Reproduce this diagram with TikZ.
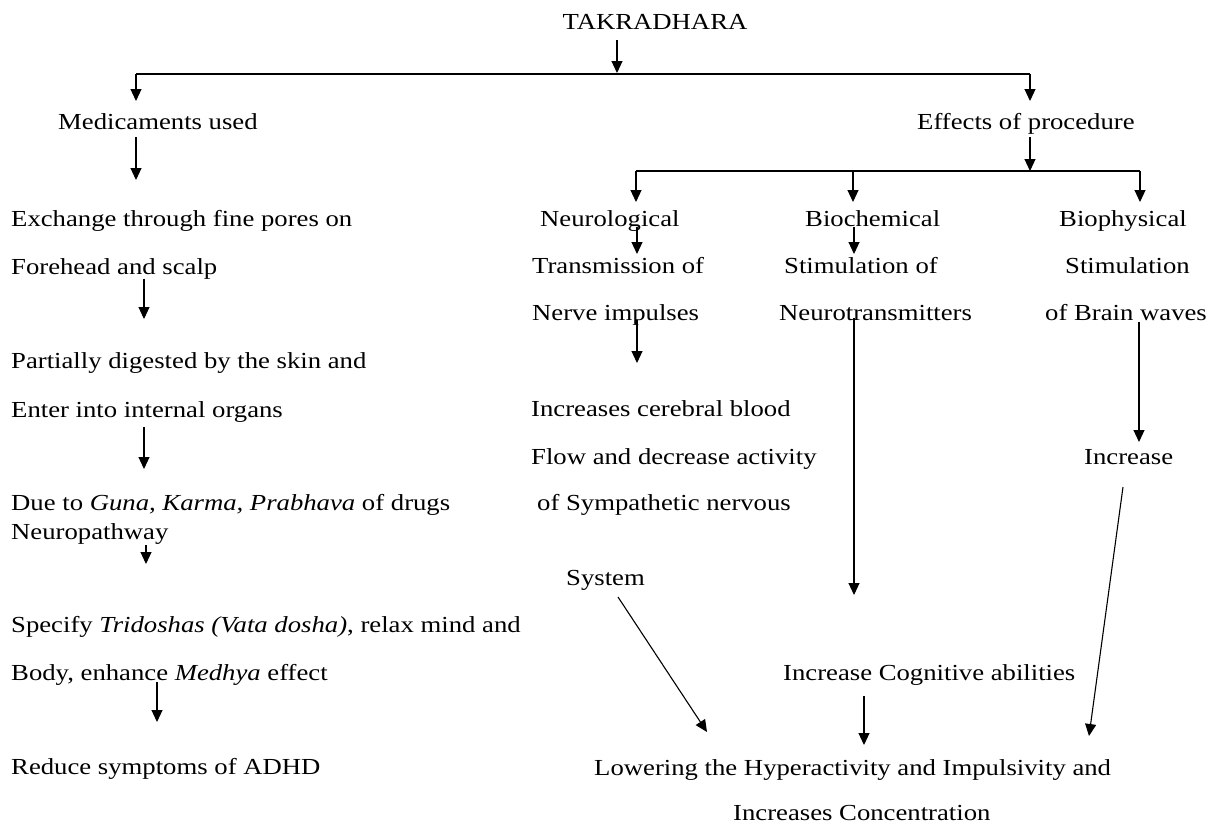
\documentclass[tikz,border=0pt]{standalone}
\usepackage{fontspec}
\setmainfont{Liberation Serif}
\usetikzlibrary{arrows.meta}
\begin{document}
\begin{tikzpicture}[x=1pt,y=-1pt,
  txt/.style={font=\fontsize{26.7}{32}\selectfont, inner sep=0pt, anchor=base west, yscale=0.86},
  ctxt/.style={txt, anchor=base},
  arr/.style={line width=1.1pt, -{Triangle[length=12pt,width=11pt]}},
  bar/.style={line width=1.7pt}]
\fill[white] (0,0) rectangle (1216,825);
\useasboundingbox (0,0) rectangle (1216,825);

% ---- text nodes ----
\node[ctxt] (tak) at (655,29) {TAKRADHARA};
\node[txt] (med) at (58,129) {Medicaments used};
\node[txt] (eff) at (917,129) {Effects of procedure};

\node[txt] (ex1) at (11,226) {Exchange through fine pores on};
\node[txt] (ex2) at (11,274) {Forehead and scalp};
\node[txt] (pd1) at (11,368) {Partially digested by the skin and};
\node[txt] (pd2) at (11,417) {Enter into internal organs};
\node[txt] (du1) at (11,510) {Due to \textit{Guna, Karma, Prabhava} of drugs};
\node[txt] (du2) at (11,539) {Neuropathway};
\node[txt] (sp1) at (11,632) {Specify \textit{Tridoshas (Vata dosha)}, relax mind and};
\node[txt] (sp2) at (11,680) {Body, enhance \textit{Medhya} effect};
\node[txt] (red) at (11,774) {Reduce symptoms of ADHD};

\node[txt] (neu) at (540,226) {Neurological};
\node[txt] (tr1) at (532,273) {Transmission of};
\node[txt] (tr2) at (532,320) {Nerve impulses};
\node[txt] (bio) at (805,226) {Biochemical};
\node[txt] (st1) at (784,273) {Stimulation of};
\node[txt] (st2) at (779,320) {Neurotransmitters};
\node[txt] (bph) at (1059,226) {Biophysical};
\node[txt] (sb1) at (1065,273) {Stimulation};
\node[txt] (sb2) at (1045,320) {of Brain waves};

\node[txt] (ic1) at (531,416) {Increases cerebral blood};
\node[txt] (ic2) at (531,464) {Flow and decrease activity};
\node[txt] (ic3) at (537,510) {of Sympathetic nervous};
\node[txt] (sys) at (566,585) {System};
\node[txt] (inc) at (1084,464) {Increase};
\node[txt] (cog) at (783,680) {Increase Cognitive abilities};
\node[txt] (low) at (594,775) {Lowering the Hyperactivity and Impulsivity and};
\node[txt] (con) at (733,820) {Increases Concentration};

% ---- connector end points ----
\coordinate (takS) at (617,40);
\coordinate (j0) at (617,73);
\coordinate (jL) at (136,74);
\coordinate (jR) at (1030,74);
\coordinate (medN) at (136,101);
\coordinate (effN) at (1030,101);
\coordinate (medS) at (136,137);
\coordinate (medE) at (136,180);
\coordinate (effS) at (1030,137);
\coordinate (j1) at (1030,171);
\coordinate (k1) at (636,171);
\coordinate (k2) at (853,171);
\coordinate (k3) at (1140,171);
\coordinate (neuN) at (636,202);
\coordinate (bioN) at (853,202);
\coordinate (bphN) at (1140,202);
\coordinate (neuS) at (637,227);
\coordinate (tr1N) at (637,254);
\coordinate (bioS) at (854,227);
\coordinate (st1N) at (854,254);
\coordinate (tr2S) at (637,320);
\coordinate (tr2E) at (637,363);
\coordinate (st2S) at (854,318);
\coordinate (st2E) at (854,595);
\coordinate (sb2S) at (1139,322);
\coordinate (incN) at (1139,442);
\coordinate (incS) at (1123,487);
\coordinate (lowR) at (1089,736);
\coordinate (sysS) at (618,597);
\coordinate (lowL) at (707,732);
\coordinate (cogS) at (864,696);
\coordinate (lowM) at (864,745);
\coordinate (ex2S) at (144,279);
\coordinate (pd1N) at (144,319);
\coordinate (pd2S) at (144,427);
\coordinate (du1N) at (144,469);
\coordinate (du2S) at (146,545);
\coordinate (sp1N) at (146,564);
\coordinate (sp2S) at (157,682);
\coordinate (redN) at (157,722);

% ---- connectors ----
\draw[arr] (takS) -- (j0);
\draw[bar] (jL) -- (jR);
\draw[arr] (jL) -- (medN);
\draw[arr] (jR) -- (effN);
\draw[arr] (medS) -- (medE);
\draw[arr] (effS) -- (j1);
\draw[bar] (k1) -- (k3);
\draw[arr] (k1) -- (neuN);
\draw[arr] (k2) -- (bioN);
\draw[arr] (k3) -- (bphN);
\draw[arr] (neuS) -- (tr1N);
\draw[arr] (bioS) -- (st1N);
\draw[arr] (tr2S) -- (tr2E);
\draw[arr] (st2S) -- (st2E);
\draw[arr] (sb2S) -- (incN);
\draw[arr] (incS) -- (lowR);
\draw[arr] (sysS) -- (lowL);
\draw[arr] (cogS) -- (lowM);
\draw[arr] (ex2S) -- (pd1N);
\draw[arr] (pd2S) -- (du1N);
\draw[arr] (du2S) -- (sp1N);
\draw[arr] (sp2S) -- (redN);
\end{tikzpicture}
\end{document}
